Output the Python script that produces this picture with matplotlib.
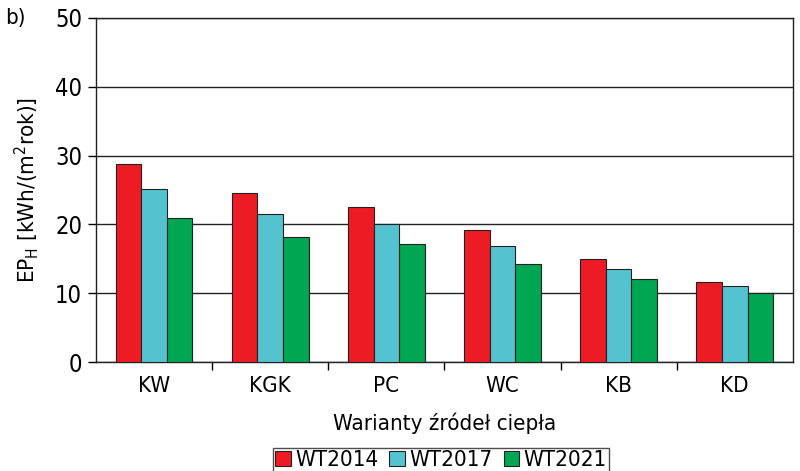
import matplotlib
matplotlib.use("Agg")
import matplotlib.pyplot as plt
from matplotlib import font_manager
import numpy as np

names = {f.name for f in font_manager.fontManager.ttflist}
narrow = [n for n in ["Liberation Sans Narrow", "DejaVu Sans Condensed"] if n in names]
plt.rcParams['font.family'] = narrow + ['DejaVu Sans']
plt.rcParams['font.stretch'] = 'condensed'

categories = ["KW", "KGK", "PC", "WC", "KB", "KD"]
series_names = ["WT2014", "WT2017", "WT2021"]
wt2014 = [28.8, 24.5, 22.6, 19.2, 15.0, 11.7]
wt2017 = [25.1, 21.5, 20.0, 16.8, 13.5, 11.1]
wt2021 = [21.0, 18.1, 17.2, 14.3, 12.0, 10.1]
colors = ["#ED1C24", "#55C3CF", "#00A651"]

fig = plt.figure(figsize=(8, 4.71), dpi=100)
ax = fig.add_axes([0.12, 0.2314, 0.871, 0.7304])

x = np.arange(len(categories))
w = 0.22
for i, (vals, name) in enumerate(zip([wt2014, wt2017, wt2021], series_names)):
    ax.bar(x + (i - 1) * w, vals, w, color=colors[i], edgecolor="#222222",
           linewidth=0.8, label=name, zorder=3)

ax.set_xlim(-0.5, len(categories) - 0.5)
ax.set_ylim(0, 50)
ax.set_yticks(range(0, 51, 10))
ax.yaxis.grid(True, color="#222222", linewidth=1.0, zorder=0)
ax.set_axisbelow(True)

# category labels centred, ticks between groups
ax.set_xticks(x)
ax.set_xticklabels(categories)
ax.tick_params(axis="x", length=0, pad=10)
ax.set_xticks(np.arange(0.5, len(categories) - 0.5, 1), minor=True)
ax.tick_params(axis="x", which="minor", length=6, width=1, direction="out")
ax.tick_params(axis="y", length=6, width=1, direction="out", pad=4)
ax.tick_params(labelsize=16)
ax.tick_params(axis="y", labelsize=17)

for s in ax.spines.values():
    s.set_color("#222222")
    s.set_linewidth(1.0)

ax.set_ylabel("EP$_\\mathregular{H}$ [kWh/(m$^\\mathregular{2}$rok)]", fontsize=16, labelpad=10)
ax.set_xlabel("Warianty źródeł ciepła", fontsize=16, labelpad=12)

fig.text(0.006, 0.962, "b)", fontsize=16, va="center", ha="left")

leg = ax.legend(loc="center", bbox_to_anchor=(0.495, -0.285), ncol=3, fontsize=16,
                frameon=True, fancybox=False, edgecolor="#222222",
                handlelength=0.7, handleheight=0.7, handletextpad=0.2,
                columnspacing=0.5, borderpad=0.1, borderaxespad=0)
leg.get_frame().set_linewidth(1.0)

fig.savefig("out.png", dpi=100)
